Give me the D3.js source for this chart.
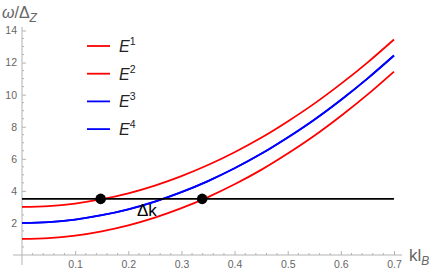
<!DOCTYPE html>
<html>
<head>
<meta charset="utf-8">
<script src="https://cdn.jsdelivr.net/npm/d3@7"></script>
<style>
  body { margin: 0; background: #fff; }
  svg { display: block; font-family: "Liberation Sans", Arial, sans-serif; }
</style>
</head>
<body>
<svg width="436" height="276"></svg>
<script>
var kValues = [0, 0.05, 0.1, 0.15, 0.2, 0.25, 0.3, 0.35, 0.4, 0.45, 0.5, 0.55, 0.6, 0.65, 0.7];
var e1 = [3, 3.05, 3.21, 3.48, 3.85, 4.33, 4.92, 5.61, 6.41, 7.31, 8.33, 9.44, 10.67, 12.0, 13.44];
var e2 = [1, 1.05, 1.21, 1.48, 1.85, 2.33, 2.92, 3.61, 4.41, 5.31, 6.33, 7.44, 8.67, 10.0, 11.44];
var e3 = [2, 2.05, 2.21, 2.48, 2.85, 3.33, 3.92, 4.61, 5.41, 6.31, 7.33, 8.44, 9.67, 11.0, 12.44];
var e4 = [2, 2.05, 2.21, 2.48, 2.85, 3.33, 3.92, 4.61, 5.41, 6.31, 7.33, 8.44, 9.67, 11.0, 12.44];
var seriesNames = ["1", "2", "3", "4"];
var seriesColors = ["#ff0000", "#ff0000", "#0000ff", "#0000ff"];
var level = 3.5;
var crossings = [0.148, 0.339];
var xTicks = [0.1, 0.2, 0.3, 0.4, 0.5, 0.6, 0.7];
var yTicks = [2, 4, 6, 8, 10, 12, 14];

var svg = d3.select("svg");
var x = d3.scaleLinear().domain([0, 0.7]).range([22, 394]);
var y = d3.scaleLinear().domain([0, 14]).range([255, 30.5]);
var axisColor = "#b3b3b3", labelColor = "#666";

// axes
var xAxis = svg.append("g").attr("transform", "translate(0,255)")
    .call(d3.axisBottom(x).tickValues(xTicks).tickSize(4).tickFormat(d3.format(".1f")));
xAxis.select(".domain").remove();
xAxis.selectAll("line").attr("stroke", axisColor).attr("y1", -4).attr("y2", 0);
xAxis.selectAll("text").attr("fill", labelColor).attr("font-size", 10.5).attr("dy", "0.5em").attr("y", 8);
var xMinor = d3.range(0.02, 0.7001, 0.02).filter(function (d) { return Math.abs(d * 10 - Math.round(d * 10)) > 1e-6; });
svg.append("g").selectAll("line").data(xMinor).enter().append("line")
    .attr("x1", d => x(d)).attr("x2", d => x(d)).attr("y1", 253).attr("y2", 255)
    .attr("stroke", axisColor);
svg.append("line").attr("x1", 13).attr("x2", 402).attr("y1", 255).attr("y2", 255)
    .attr("stroke", axisColor);

var yAxis = svg.append("g").attr("transform", "translate(22,0)")
    .call(d3.axisLeft(y).tickValues(yTicks).tickSize(0));
yAxis.select(".domain").remove();
yAxis.selectAll("line").attr("stroke", axisColor).attr("x1", 0).attr("x2", 4);
yAxis.selectAll("text").attr("fill", labelColor).attr("font-size", 10.5).attr("x", -5);
var yMinor = d3.range(0.5, 14.01, 0.5).filter(function (d) { return d % 2 !== 0; });
svg.append("g").selectAll("line").data(yMinor).enter().append("line")
    .attr("x1", 22).attr("x2", 24).attr("y1", d => y(d)).attr("y2", d => y(d))
    .attr("stroke", axisColor);
svg.append("line").attr("x1", 22).attr("x2", 22).attr("y1", 27).attr("y2", 265)
    .attr("stroke", axisColor);

// axis labels
var yl = svg.append("text").attr("x", 2).attr("y", 18).attr("fill", labelColor).attr("font-size", 16);
yl.append("tspan").attr("font-style", "italic").text("ω");
yl.append("tspan").text("/Δ");
yl.append("tspan").attr("font-size", 12).attr("dy", 4).attr("font-style", "italic").text("Z");
var xl = svg.append("text").attr("x", 409).attr("y", 261).attr("fill", labelColor).attr("font-size", 17);
xl.append("tspan").text("kl");
xl.append("tspan").attr("font-size", 12).attr("dy", 4).attr("font-style", "italic").text("B");

// curves
var line = d3.line().x((d, i) => x(kValues[i])).y(d => y(d)).curve(d3.curveNatural);
[e1, e2, e3, e4].forEach(function (s, i) {
  svg.append("path").attr("d", line(s)).attr("fill", "none")
      .attr("stroke", seriesColors[i]).attr("stroke-width", 1.8);
});

// level line and crossings
svg.append("line").attr("x1", x(0)).attr("x2", x(0.7)).attr("y1", y(level)).attr("y2", y(level))
    .attr("stroke", "#000").attr("stroke-width", 1.8);
svg.selectAll("circle.pt").data(crossings).enter().append("circle")
    .attr("cx", d => x(d)).attr("cy", y(level)).attr("r", 5.3).attr("fill", "#000");
svg.append("text").attr("x", 137).attr("y", 216).attr("font-size", 17).attr("fill", "#000").text("Δk");

// legend
var legend = svg.append("g").selectAll("g").data(seriesNames).enter().append("g")
    .attr("transform", (d, i) => "translate(87," + (46 + i * 27.7) + ")");
legend.append("line").attr("x1", 0).attr("x2", 23).attr("stroke", (d, i) => seriesColors[i]).attr("stroke-width", 1.8);
var lt = legend.append("text").attr("x", 32).attr("y", 6).attr("font-size", 16).attr("fill", "#222");
lt.append("tspan").attr("font-style", "italic").text("E");
lt.append("tspan").attr("font-size", 10.5).attr("dy", -7).text(d => d);
</script>
</body>
</html>
